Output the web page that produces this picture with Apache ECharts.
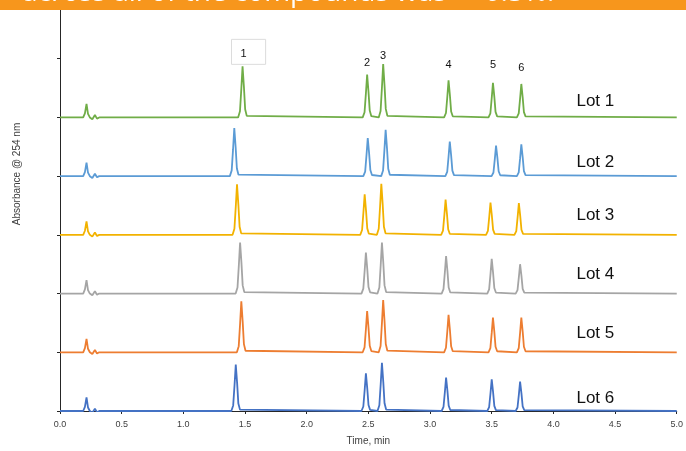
<!DOCTYPE html>
<html>
<head>
<meta charset="utf-8">
<script src="https://cdn.jsdelivr.net/npm/echarts@6/dist/echarts.min.js"></script>
<style>
  html, body { margin: 0; padding: 0; background: #fff; }
  #chart { width: 686px; height: 451px; }
</style>
</head>
<body>
<div id="chart"></div>
<script>
// Lot names, top to bottom
const lots = ['Lot 1', 'Lot 2', 'Lot 3', 'Lot 4', 'Lot 5', 'Lot 6'];

// Compound numbers (peaks 1-6)
const compounds = ['1', '2', '3', '4', '5', '6'];

// Retention times (min) of compounds 1-6 in each lot
const lot1Times = [1.48, 2.49, 2.62, 3.15, 3.51, 3.74];
const lot2Times = [1.413, 2.495, 2.64, 3.16, 3.535, 3.74];
const lot3Times = [1.435, 2.47, 2.605, 3.126, 3.49, 3.72];
const lot4Times = [1.46, 2.48, 2.61, 3.13, 3.50, 3.73];
const lot5Times = [1.47, 2.49, 2.62, 3.15, 3.51, 3.74];
const lot6Times = [1.425, 2.48, 2.61, 3.13, 3.50, 3.73];

// Peak heights (mAU) of compounds 1-6 in each lot
const lot1Heights = [87, 73, 91, 63, 59, 57];
const lot2Heights = [82, 65, 79, 59, 52, 54];
const lot3Heights = [86, 69, 87, 60, 55, 54];
const lot4Heights = [87, 70, 87, 64, 59, 50];
const lot5Heights = [87, 70, 89, 64, 59, 59];
const lot6Heights = [79, 64, 82, 57, 54, 50];

// Solvent front disturbance near t0 (min, mAU), same injection profile for each lot
const voidTrace = [[0.188, 0], [0.202, 7], [0.215, 23], [0.227, 6], [0.242, 0], [0.262, -3],
                   [0.283, 4], [0.3, -2], [0.318, 0], [0.358, 0], [0.372, 3], [0.386, 0]];

// Run window (min)
const runStart = 0;
const runEnd = 5;

// ---- drawing setup ----
const lotTimes = [lot1Times, lot2Times, lot3Times, lot4Times, lot5Times, lot6Times];
const lotHeights = [lot1Heights, lot2Heights, lot3Heights, lot4Heights, lot5Heights, lot6Heights];
const colors = ['#70AD47', '#5B9BD5', '#F2B200', '#A5A5A5', '#ED7D31', '#4472C4'];
const step = 100;                       // vertical offset between stacked traces
// relative peak outline: [time offset (min), fraction of apex height]
const peakShape = [[-0.036, 0], [-0.021, 0.12], [-0.01, 0.56], [0, 1], [0.011, 0.6],
                   [0.021, 0.16], [0.034, 0.03], [0.05, 0]];
const lotLabelLift = [28, 23, 34, 32, 33, 21];   // label height above each baseline
const numberGap = [2, 6, 3, 10, 12, 10];          // px between apex and number label

function trace(i) {
  const base = (lots.length - 1 - i) * step;
  const pts = [[runStart, base]];
  voidTrace.forEach(p => pts.push([p[0], base + p[1]]));
  lotTimes[i].forEach((t, k) => {
    const h = lotHeights[i][k];
    peakShape.forEach(s => pts.push([+(t + s[0]).toFixed(4), base + h * s[1]]));
  });
  pts.push([runEnd, base]);
  return pts;
}

const series = lots.map((name, i) => {
  const base = (lots.length - 1 - i) * step;
  const marks = [{
    coord: [4.34, base + lotLabelLift[i]],
    value: name,
    label: { show: true, position: 'inside', formatter: name, fontSize: 17,
             fontFamily: 'Liberation Sans', color: '#111' }
  }];
  if (i === 0) {
    compounds.forEach((c, k) => {
      const item = {
        coord: [lotTimes[0][k], base + lotHeights[0][k]],
        value: c,
        label: { show: true, position: 'top', distance: numberGap[k], formatter: c,
                 fontSize: 11, fontFamily: 'Liberation Sans', color: '#111' }
      };
      if (k === 0) {
        Object.assign(item.label, { borderColor: '#dcdcdc', borderWidth: 1,
                                    padding: [9, 19, 5, 9], offset: [6, 0] });
      }
      marks.push(item);
    });
  }
  return {
    name,
    type: 'line',
    data: trace(i),
    showSymbol: false,
    symbol: 'none',
    lineStyle: { color: colors[i], width: 1.8 },
    itemStyle: { color: colors[i] },
    animation: false,
    silent: true,
    z: 10 - i,
    markPoint: {
      symbol: 'circle',
      symbolSize: 0,
      itemStyle: { color: 'rgba(0,0,0,0)' },
      animation: false,
      data: marks
    }
  };
});

const chart = echarts.init(document.getElementById('chart'), null, { renderer: 'canvas' });
chart.setOption({
  animation: false,
  backgroundColor: '#fff',
  grid: { left: 60, right: 9, top: -3, bottom: 36 },
  xAxis: {
    type: 'value',
    min: runStart,
    max: runEnd,
    interval: 0.5,
    name: 'Time, min',
    nameLocation: 'middle',
    nameGap: 25,
    nameTextStyle: { fontSize: 10, color: '#404040', fontFamily: 'Liberation Sans' },
    axisLine: { lineStyle: { color: '#262626', width: 1 } },
    axisTick: { show: true, length: 3, lineStyle: { color: '#262626' } },
    axisLabel: { formatter: v => v.toFixed(1), fontSize: 9, color: '#404040',
                 fontFamily: 'Liberation Sans', margin: 9 },
    splitLine: { show: false }
  },
  yAxis: {
    type: 'value',
    min: 0,
    max: 700,
    interval: 100,
    axisLine: { show: true, lineStyle: { color: '#262626', width: 1 } },
    axisTick: { show: true, length: 3, lineStyle: { color: '#262626' } },
    axisLabel: { show: false },
    splitLine: { show: false }
  },
  graphic: [
    {
      type: 'text',
      x: 17, y: 174,
      rotation: Math.PI / 2,
      style: { text: 'Absorbance @ 254 nm', fontSize: 10, fill: '#404040',
               fontFamily: 'Liberation Sans', align: 'center', verticalAlign: 'middle' },
      z: 100
    },
    {
      type: 'rect',
      shape: { x: 0, y: 0, width: 686, height: 10 },
      style: { fill: '#F7961C' },
      z: 100
    },
    {
      type: 'text',
      x: 22, y: 7,
      style: { text: 'across all of the compounds was  < 0.5%.', fontSize: 28,
               fontFamily: 'Open Sans', fill: '#fff', verticalAlign: 'bottom' },
      z: 101
    }
  ],
  series
});
</script>
</body>
</html>
